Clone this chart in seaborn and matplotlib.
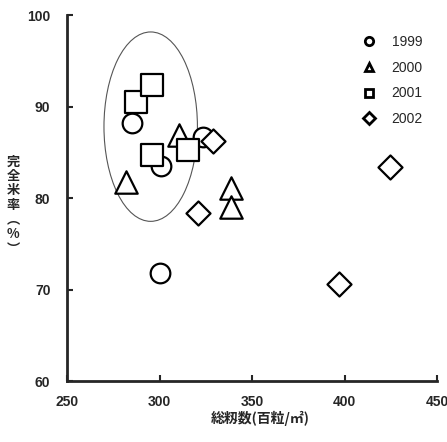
import numpy as np
import pandas as pd
import matplotlib
matplotlib.use("Agg")
import matplotlib.pyplot as plt
from matplotlib.patches import Ellipse
from matplotlib.lines import Line2D
import seaborn as sns

sns.set_style("ticks")
plt.rcParams['font.family'] = ['Liberation Sans', 'Noto Sans CJK JP', 'DejaVu Sans']

years = ["1999", "2000", "2001", "2002"]
x_1999 = [285, 300.6, 323.3, 300]
y_1999 = [88.2, 83.5, 86.7, 71.8]
x_2000 = [281.7, 310.5, 338.6, 338.6]
y_2000 = [81.8, 86.9, 81.1, 79.0]
x_2001 = [287.3, 295.8, 296.1, 315.6]
y_2001 = [90.5, 92.3, 84.7, 85.3]
x_2002 = [329.1, 320.5, 424.3, 396.7]
y_2002 = [86.2, 78.4, 83.4, 70.6]

x_ticks = [250, 300, 350, 400, 450]
y_ticks = [60, 70, 80, 90, 100]
ellipse_center = (295.2, 87.8)
ellipse_w, ellipse_h = 50.5, 20.7

xs = [x_1999, x_2000, x_2001, x_2002]
ys = [y_1999, y_2000, y_2001, y_2002]
df = pd.DataFrame({
    "x": sum(xs, []),
    "y": sum(ys, []),
    "year": sum([[yr] * len(v) for yr, v in zip(years, xs)], []),
})
markers = {"1999": "o", "2000": "^", "2001": "s", "2002": "D"}
sizes = {"1999": 200, "2000": 260, "2001": 230, "2002": 150}

fig = plt.figure(figsize=(4.47, 4.42), dpi=100)
ax = fig.add_axes([0.150, 0.138, 0.828, 0.828])

for yr in years:
    sub = df[df["year"] == yr]
    sns.scatterplot(data=sub, x="x", y="y", marker=markers[yr], s=sizes[yr],
                    facecolor="white", edgecolor="black", linewidth=1.6,
                    ax=ax, legend=False, zorder=3)

ax.add_patch(Ellipse(ellipse_center, ellipse_w, ellipse_h, fill=False,
                     edgecolor="#555555", linewidth=0.8, zorder=2))

ax.set_xlim(250, 450)
ax.set_ylim(60, 100)
ax.set_xticks(x_ticks)
ax.set_yticks(y_ticks)
ax.tick_params(direction="in", length=4, width=1.5, labelsize=10)
ax.tick_params(axis="x", pad=10)
ax.tick_params(axis="y", pad=12)
for lab in ax.get_xticklabels() + ax.get_yticklabels():
    lab.set_fontweight("bold")
sns.despine(ax=ax)
for sp in ["left", "bottom"]:
    ax.spines[sp].set_linewidth(2)

ax.set_xlabel("総籾数(百粒/㎡)", family=['Noto Sans CJK JP', 'DejaVu Sans'],
              fontsize=10, fontweight="bold", va="center", ha="center")
ax.xaxis.set_label_coords(0.522, -0.101)
ax.set_ylabel("\n".join("完全米率︵%︶"), family=['Noto Sans CJK JP', 'DejaVu Sans'],
              fontsize=9.5, fontweight="bold", rotation=0, linespacing=1.05,
              va="center", ha="center")
ax.yaxis.set_label_coords(-0.146, 0.481)

handles = [Line2D([], [], linestyle="none", marker=markers[yr], markersize=6,
                  markerfacecolor="white", markeredgecolor="black",
                  markeredgewidth=2) for yr in years]
leg = ax.legend(handles, years, loc="upper right", frameon=False,
                bbox_to_anchor=(0.995, 0.98), handletextpad=0.6,
                labelspacing=0.85, prop={"size": 10})

fig.savefig("out.png", dpi=100)
